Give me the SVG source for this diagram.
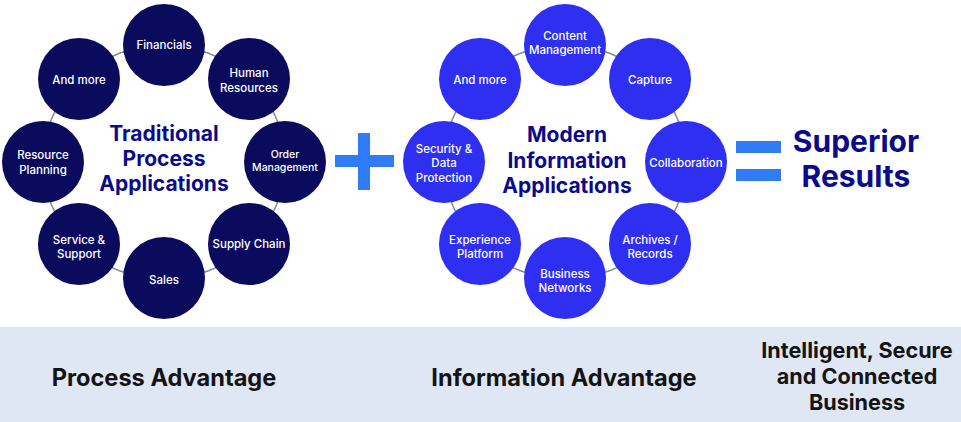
<svg xmlns="http://www.w3.org/2000/svg" width="961" height="422" viewBox="0 0 961 422">
<style>
text{font-family:Inter,"Liberation Sans",sans-serif;text-anchor:middle}
.dk{fill:#0b0b5e}
.br{fill:#2f2ff2}
.lb{fill:#fff;font-size:11.5px;font-weight:500}
.sm{font-size:10.5px}
.ring{fill:none;stroke:#7d8d9c;stroke-width:1.5}
.ttl{fill:#0a0a8c;font-size:21px;font-weight:700}
.sym{fill:#2f7cf6}
.bt{fill:#141414;font-size:23.6px;font-weight:700}
.bs{fill:#141414;font-size:21.6px;font-weight:700}
</style>
<rect x="0" y="327" width="961" height="95" fill="#dfe7f4"/>
<g id="connectors">
<ellipse class="ring" cx="164" cy="162" rx="121" ry="117"/>
<ellipse class="ring" cx="565" cy="162" rx="121" ry="117"/>
</g>
<g id="traditional-title"><text class="ttl" x="164" y="141">Traditional</text><text class="ttl" x="164" y="166">Process</text><text class="ttl" x="164" y="191">Applications</text></g>
<g id="n-financials"><circle class="dk" cx="164" cy="45" r="41"/><text class="lb" x="164" y="49">Financials</text></g>
<g id="n-hr"><circle class="dk" cx="249" cy="79" r="41"/><text class="lb" x="249" y="77">Human</text><text class="lb" x="249" y="92">Resources</text></g>
<g id="n-order"><circle class="dk" cx="285" cy="162" r="41"/><text class="lb sm" x="285" y="158">Order</text><text class="lb sm" x="285" y="171">Management</text></g>
<g id="n-supply"><circle class="dk" cx="249" cy="244" r="41"/><text class="lb" x="249" y="248">Supply Chain</text></g>
<g id="n-sales"><circle class="dk" cx="164" cy="278" r="41"/><text class="lb" x="164" y="284">Sales</text></g>
<g id="n-service"><circle class="dk" cx="79" cy="244" r="41"/><text class="lb" x="79" y="244">Service &amp;</text><text class="lb" x="79" y="258">Support</text></g>
<g id="n-resource"><circle class="dk" cx="43" cy="162" r="41"/><text class="lb" x="43" y="159">Resource</text><text class="lb" x="43" y="174">Planning</text></g>
<g id="n-andmore-l"><circle class="dk" cx="79" cy="79" r="41"/><text class="lb" x="79" y="84">And more</text></g>
<g id="plus"><rect class="sym" x="335" y="155" width="59" height="12"/><rect class="sym" x="358" y="133" width="12" height="57"/></g>
<g id="modern-title"><text class="ttl" x="567" y="142">Modern</text><text class="ttl" x="567" y="168">Information</text><text class="ttl" x="567" y="193">Applications</text></g>
<g id="n-content"><circle class="br" cx="565" cy="45" r="41"/><text class="lb" x="565" y="40">Content</text><text class="lb" x="565" y="54">Management</text></g>
<g id="n-capture"><circle class="br" cx="650" cy="79" r="41"/><text class="lb" x="650" y="84">Capture</text></g>
<g id="n-collab"><circle class="br" cx="686" cy="162" r="41"/><text class="lb" x="686" y="167">Collaboration</text></g>
<g id="n-archives"><circle class="br" cx="650" cy="244" r="41"/><text class="lb" x="650" y="244">Archives /</text><text class="lb" x="650" y="258">Records</text></g>
<g id="n-business"><circle class="br" cx="565" cy="278" r="41"/><text class="lb" x="565" y="278">Business</text><text class="lb" x="565" y="292">Networks</text></g>
<g id="n-experience"><circle class="br" cx="480" cy="244" r="41"/><text class="lb" x="480" y="244">Experience</text><text class="lb" x="480" y="258">Platform</text></g>
<g id="n-security"><circle class="br" cx="444" cy="162" r="41"/><text class="lb" x="444" y="153">Security &amp;</text><text class="lb" x="444" y="167">Data</text><text class="lb" x="444" y="182">Protection</text></g>
<g id="n-andmore-r"><circle class="br" cx="480" cy="79" r="41"/><text class="lb" x="480" y="84">And more</text></g>
<g id="equals"><rect class="sym" x="736" y="141" width="45" height="12"/><rect class="sym" x="736" y="169" width="45" height="12"/></g>
<g id="superior"><text x="856" y="152" fill="#0a0a8c" font-size="30" font-weight="700">Superior</text><text x="856" y="187" fill="#0a0a8c" font-size="30" font-weight="700">Results</text></g>
<g id="band-labels">
<text class="bt" x="164" y="386">Process Advantage</text>
<text class="bt" x="564" y="386">Information Advantage</text>
<text class="bs" x="857" y="358">Intelligent, Secure</text>
<text class="bs" x="857" y="384">and Connected</text>
<text class="bs" x="857" y="410">Business</text>
</g>
</svg>
